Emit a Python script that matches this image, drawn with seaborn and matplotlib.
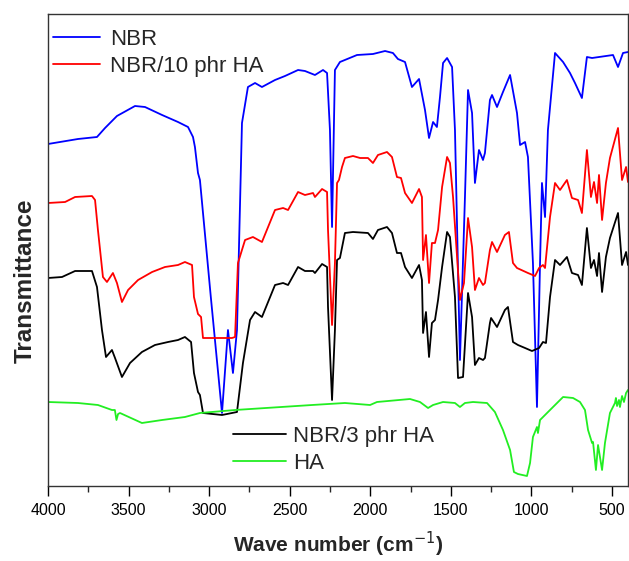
import matplotlib
matplotlib.use("Agg")
import matplotlib.pyplot as plt
import seaborn as sns
import pandas as pd
from matplotlib.lines import Line2D
from matplotlib.ticker import MultipleLocator

# ---- data (wavenumber cm-1, transmittance a.u.) ----
nbr_w = [4000, 3814, 3696, 3646, 3572, 3460, 3398, 3292, 3193, 3131, 3100, 3088, 3069, 3057,
         2990, 2920, 2883, 2852, 2827, 2796, 2759, 2715, 2672, 2591, 2529, 2448, 2405, 2343,
         2293, 2268, 2250, 2237, 2219, 2188, 2082, 1983, 1908, 1859, 1828, 1784, 1741, 1697,
         1660, 1635, 1610, 1586, 1567, 1548, 1523, 1492, 1474, 1443, 1412, 1393, 1368, 1350,
         1325, 1300, 1288, 1257, 1244, 1213, 1176, 1132, 1089, 1070, 1039, 1021, 990, 965,
         946, 934, 915, 897, 853, 803, 760, 729, 686, 655, 623, 493, 462, 431, 400]
nbr_t = [342, 347, 349, 358, 370, 380, 379, 371, 364, 359, 349, 339, 313, 306,
         190, 73, 156, 113, 156, 363, 399, 403, 399, 406, 410, 416, 415, 411,
         416, 413, 356, 259, 416, 424, 431, 432, 435, 433, 427, 424, 399, 407,
         376, 348, 364, 359, 389, 423, 428, 419, 356, 126, 289, 396, 373, 303,
         336, 326, 333, 386, 391, 379, 394, 411, 373, 341, 344, 329, 223, 79,
         223, 303, 269, 356, 433, 424, 413, 403, 388, 429, 428, 431, 419, 433, 434]

nbr10_w = [4000, 3894, 3832, 3727, 3708, 3690, 3659, 3634, 3597, 3572, 3541, 3503, 3441, 3354,
           3274, 3193, 3150, 3106, 3094, 3069, 3050, 3038, 2858, 2839, 2821, 2777, 2728, 2672,
           2591, 2541, 2510, 2448, 2405, 2355, 2343, 2299, 2268, 2262, 2237, 2219, 2206, 2194,
           2175, 2157, 2107, 2063, 2014, 1983, 1952, 1896, 1865, 1834, 1809, 1784, 1741, 1697,
           1679, 1672, 1654, 1635, 1617, 1598, 1579, 1554, 1523, 1505, 1486, 1443, 1418, 1393,
           1368, 1350, 1325, 1300, 1288, 1257, 1244, 1213, 1164, 1139, 1114, 1089, 1021, 977,
           952, 928, 915, 884, 853, 822, 779, 748, 710, 686, 655, 630, 611, 592, 580, 561,
           537, 512, 462, 437, 412, 400]
nbr10_t = [283, 284, 289, 290, 286, 256, 209, 204, 213, 203, 184, 196, 206, 214,
           219, 221, 224, 221, 189, 172, 169, 148, 148, 149, 223, 246, 249, 244,
           276, 278, 276, 294, 291, 293, 289, 297, 294, 256, 161, 223, 303, 306,
           319, 328, 330, 328, 328, 323, 331, 334, 329, 309, 308, 293, 283, 297,
           289, 226, 251, 203, 243, 243, 256, 299, 329, 323, 289, 186, 203, 268,
           239, 196, 208, 201, 203, 236, 244, 234, 251, 254, 223, 218, 213, 210,
           218, 221, 218, 269, 303, 296, 306, 288, 286, 273, 336, 289, 304, 283, 311, 266,
           303, 328, 358, 306, 319, 304]

nbr3_w = [4000, 3913, 3832, 3727, 3696, 3665, 3640, 3603, 3584, 3541, 3491, 3417, 3336, 3255,
          3193, 3150, 3112, 3094, 3069, 3057, 3038, 2920, 2827, 2790, 2746, 2715, 2672, 2591,
          2541, 2510, 2448, 2405, 2355, 2343, 2299, 2268, 2262, 2237, 2219, 2206, 2188, 2157,
          2107, 2014, 1983, 1952, 1896, 1865, 1834, 1809, 1784, 1741, 1697, 1679, 1672, 1654,
          1635, 1617, 1598, 1579, 1554, 1523, 1505, 1474, 1455, 1424, 1393, 1368, 1350, 1325,
          1300, 1288, 1257, 1250, 1213, 1164, 1145, 1114, 1083, 1039, 996, 952, 928, 909,
          884, 853, 822, 779, 748, 710, 686, 655, 630, 611, 592, 580, 561, 537, 512, 462,
          437, 412, 400]
nbr3_t = [208, 209, 215, 215, 199, 156, 129, 136, 128, 109, 123, 134, 141, 144,
          146, 149, 144, 113, 94, 91, 73, 71, 74, 123, 166, 174, 169, 201,
          203, 201, 219, 215, 215, 213, 222, 219, 179, 86, 156, 226, 228, 253,
          254, 253, 247, 256, 259, 253, 233, 233, 219, 208, 221, 206, 153, 174,
          129, 163, 166, 186, 219, 254, 249, 189, 108, 109, 193, 169, 121, 128,
          126, 128, 163, 168, 159, 176, 179, 144, 141, 138, 135, 138, 144, 143,
          189, 226, 221, 229, 213, 211, 201, 258, 218, 226, 210, 233, 194, 229, 248, 273,
          221, 234, 221]

ha_w = [4000, 3814, 3690, 3603, 3585, 3575, 3565, 3553, 3417, 3292, 3150, 3057, 2839, 2361,
        2157, 2001, 1958, 1753, 1691, 1641, 1610, 1548, 1474, 1443, 1412, 1362, 1275, 1226,
        1176, 1132, 1108, 1083, 1027, 1008, 990, 965, 959, 946, 884, 803, 741, 698, 667,
        648, 623, 617, 599, 586, 561, 543, 512, 481, 475, 468, 456, 450, 437, 425, 412, 400]
ha_t = [84, 83, 81, 76, 76, 66, 72, 73, 63, 66, 69, 73, 76, 81,
        83, 81, 84, 87, 84, 78, 81, 84, 83, 79, 83, 84, 83, 74,
        56, 36, 14, 12, 10, 23, 49, 59, 53, 66, 76, 89, 88, 84, 76,
        56, 43, 44, 16, 41, 16, 43, 73, 83, 88, 80, 86, 79, 90, 84, 93, 96]

names = ["NBR", "NBR/10 phr HA", "NBR/3 phr HA", "HA"]
colors = ["#0000FF", "#FF0000", "#000000", "#22EE22"]
series = [(nbr_w, nbr_t), (nbr10_w, nbr10_t), (nbr3_w, nbr3_t), (ha_w, ha_t)]

sns.set_theme(style="white")
plt.rcParams["font.family"] = ["Liberation Sans", "DejaVu Sans"]

fig = plt.figure(figsize=(6.29, 5.61), dpi=100)
ax = fig.add_axes([48 / 629, 1 - 486 / 561, 580 / 629, 472 / 561])

for (w, t), name, c in zip(series, names, colors):
    df = pd.DataFrame({"wave": w, "T": t})
    sns.lineplot(data=df, x="wave", y="T", ax=ax, color=c, lw=1.3,
                 sort=False, estimator=None, legend=False)

ax.set_xlim(4000, 400)
ax.set_ylim(0, 472)
ax.set_yticks([])
ax.xaxis.set_major_locator(MultipleLocator(500))
ax.xaxis.set_minor_locator(MultipleLocator(250))
ax.tick_params(axis="x", which="major", direction="out", length=7, width=1,
               labelsize=11.5, bottom=True, pad=5, colors="black")
ax.tick_params(axis="x", which="minor", direction="out", length=4, width=1, bottom=True)
for s in ax.spines.values():
    s.set_color("#333333")
    s.set_linewidth(1.0)

ax.set_xlabel("Wave number (cm$^{-1}$)", fontsize=15, fontweight="bold", labelpad=9)
ax.set_ylabel("Transmittance", fontsize=17.5, fontweight="bold")
ax.yaxis.set_label_coords(-0.020, 0.435)

h = [Line2D([], [], color=c, lw=1.3) for c in colors]
leg1 = ax.legend(h[:2], names[:2], loc="upper left", bbox_to_anchor=(0.0086, 0.969),
                 frameon=False, fontsize=16, handlelength=2.1, handletextpad=0.45,
                 labelspacing=0.28, borderpad=0, borderaxespad=0)
ax.add_artist(leg1)
ax.legend(h[2:], names[2:], loc="upper left", bbox_to_anchor=(0.319, 0.127),
          frameon=False, fontsize=16, handlelength=2.4, handletextpad=0.3,
          labelspacing=0.25, borderpad=0, borderaxespad=0)

fig.savefig("out.png", dpi=100)
